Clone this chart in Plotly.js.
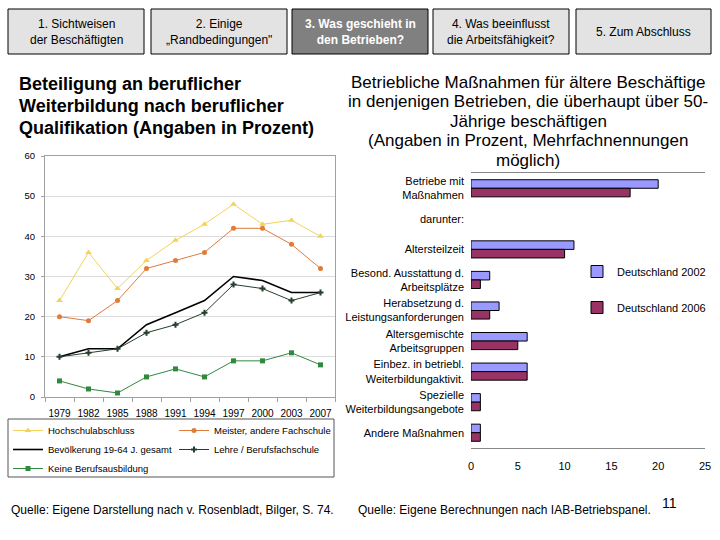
<!DOCTYPE html>
<html>
<head>
<meta charset="utf-8">
<script src="https://cdn.plot.ly/plotly-3.0.1.min.js"></script>
<style>html,body{margin:0;padding:0;background:#fff;}#chart{width:720px;height:540px;}</style>
</head>
<body>
<div id="chart"></div>
<script>
// ---- Data: left chart (line) ----
const years = ['1979','1982','1985','1988','1991','1994','1997','2000','2003','2007'];
const hochschul = [24, 36, 27, 34, 39, 43, 48, 43, 44, 40];
const meister = [20, 19, 24, 32, 34, 36, 42, 42, 38, 32];
const bevoelkerung = [10, 12, 12, 18, 21, 24, 30, 29, 26, 26];
const lehre = [10, 11, 12, 16, 18, 21, 28, 27, 24, 26];
const keine = [4, 2, 1, 5, 7, 5, 9, 9, 11, 8];
const lineNames = ['Hochschulabschluss', 'Meister, andere Fachschule', 'Bevölkerung 19-64 J. gesamt', 'Lehre / Berufsfachschule', 'Keine Berufsausbildung'];

// ---- Data: right chart (bars) ----
const measures = ['Betriebe mit<br>Maßnahmen', 'darunter:', 'Altersteilzeit', 'Besond. Ausstattung d.<br>Arbeitsplätze', 'Herabsetzung d.<br>Leistungsanforderungen', 'Altersgemischte<br>Arbeitsgruppen', 'Einbez. in betriebl.<br>Weiterbildungaktivit.', 'Spezielle<br>Weiterbildungsangebote', 'Andere Maßnahmen'];
const de2002 = [20, null, 11, 2, 3, 6, 6, 1, 1];
const de2006 = [17, null, 10, 1, 2, 5, 6, 1, 1];
const barNames = ['Deutschland 2002', 'Deutschland 2006'];
const xTicksBar = [0, 5, 10, 15, 20, 25];

// ---- Texts ----
const tabs = ['1. Sichtweisen<br>der Beschäftigten', '2. Einige<br>„Randbedingungen"', '<b>3. Was geschieht in<br>den Betrieben?</b>', '4. Was beeinflusst<br>die Arbeitsfähigkeit?', '5. Zum Abschluss'];
const titleLeftLines = ['Beteiligung an beruflicher', 'Weiterbildung nach beruflicher', 'Qualifikation (Angaben in Prozent)'];
const titleRightLines = ['Betriebliche Maßnahmen für ältere Beschäftige', 'in denjenigen Betrieben, die überhaupt über 50-', 'Jährige beschäftigen', '(Angaben in Prozent, Mehrfachnennungen', 'möglich)'];
const sourceLeft = 'Quelle: Eigene Darstellung nach v. Rosenbladt, Bilger, S. 74.';
const sourceRight = 'Quelle: Eigene Berechnungen nach IAB-Betriebspanel.';
const pageNo = '11';

const W = 720, H = 540;
const X = p => p / W;
const Y = p => 1 - p / H;
const FONT = 'Liberation Sans, Arial, sans-serif';

const traces = [
  {x: years, y: hochschul, name: lineNames[0], type: 'scatter', mode: 'lines+markers', xaxis: 'x', yaxis: 'y', legend: 'legend',
   line: {color: '#f3d35a', width: 1}, marker: {symbol: 'triangle-up', size: 6, color: '#f3d35a'}},
  {x: years, y: meister, name: lineNames[1], type: 'scatter', mode: 'lines+markers', xaxis: 'x', yaxis: 'y', legend: 'legend2',
   line: {color: '#e07b3a', width: 1}, marker: {symbol: 'circle', size: 5, color: '#e07b3a'}},
  {x: years, y: bevoelkerung, name: lineNames[2], type: 'scatter', mode: 'lines', xaxis: 'x', yaxis: 'y', legend: 'legend',
   line: {color: '#000000', width: 1.6}},
  {x: years, y: lehre, name: lineNames[3], type: 'scatter', mode: 'lines+markers', xaxis: 'x', yaxis: 'y', legend: 'legend2',
   line: {color: '#253f2d', width: 1}, marker: {symbol: 'cross', size: 5, color: '#253f2d'}},
  {x: years, y: keine, name: lineNames[4], type: 'scatter', mode: 'lines+markers', xaxis: 'x', yaxis: 'y', legend: 'legend',
   line: {color: '#2f8a3e', width: 1}, marker: {symbol: 'square', size: 5, color: '#2f8a3e'}},
  {y: measures, x: de2002, name: barNames[0], type: 'bar', orientation: 'h', xaxis: 'x2', yaxis: 'y2', legend: 'legend3', legendgroup: 'a',
   marker: {color: '#9999ff', line: {color: '#000', width: 1}}},
  {y: measures, x: de2006, name: barNames[1], type: 'bar', orientation: 'h', xaxis: 'x2', yaxis: 'y2', legend: 'legend3', legendgroup: 'b',
   marker: {color: '#993366', line: {color: '#000', width: 1}}}
];

const tabBoxes = [[8,144],[151,287],[292,428],[433,569],[576,711]];
const shapes = [];
const annotations = [];
tabBoxes.forEach((b, i) => {
  const dark = i === 2;
  shapes.push({type: 'rect', xref: 'paper', yref: 'paper', x0: X(b[0]), x1: X(b[1]), y0: Y(54), y1: Y(9),
    fillcolor: dark ? '#808080' : '#e3e3e3', line: {color: '#000', width: 1}, layer: 'below'});
  annotations.push({xref: 'paper', yref: 'paper', x: X((b[0] + b[1]) / 2), y: Y(31.5), xanchor: 'center', yanchor: 'middle',
    text: tabs[i], showarrow: false, align: 'center', font: {family: FONT, size: 12, color: dark ? '#fff' : '#000'}});
});
// legend box for line chart
shapes.push({type: 'rect', xref: 'paper', yref: 'paper', x0: X(8), x1: X(334), y0: Y(477), y1: Y(419),
  fillcolor: 'rgba(0,0,0,0)', line: {color: '#555', width: 1}, layer: 'below'});

const leftTitleY = [84, 106, 128];
titleLeftLines.forEach((t, i) => annotations.push({xref: 'paper', yref: 'paper', x: X(17), y: Y(leftTitleY[i]), xanchor: 'left', yanchor: 'middle',
  text: '<b>' + t + '</b>', showarrow: false, font: {family: FONT, size: 18, color: '#000'}}));
const rightTitleY = [82, 101.5, 121, 140.5, 160];
titleRightLines.forEach((t, i) => annotations.push({xref: 'paper', yref: 'paper', x: X(528), y: Y(rightTitleY[i]), xanchor: 'center', yanchor: 'middle',
  text: t, showarrow: false, font: {family: FONT, size: 17, color: '#000'}}));
annotations.push({xref: 'paper', yref: 'paper', x: X(9), y: Y(510), xanchor: 'left', yanchor: 'middle', align: 'left',
  text: sourceLeft, showarrow: false, font: {family: FONT, size: 12, color: '#000'}});
annotations.push({xref: 'paper', yref: 'paper', x: X(356), y: Y(510), xanchor: 'left', yanchor: 'middle', align: 'left',
  text: sourceRight, showarrow: false, font: {family: FONT, size: 12, color: '#000'}});
annotations.push({xref: 'paper', yref: 'paper', x: X(669), y: Y(503), xanchor: 'center', yanchor: 'middle',
  text: pageNo, showarrow: false, font: {family: FONT, size: 14, color: '#000'}});

const layout = {
  width: W, height: H,
  margin: {l: 0, r: 0, t: 0, b: 0, pad: 0},
  paper_bgcolor: '#fff', plot_bgcolor: '#fff',
  font: {family: FONT, color: '#000'},
  showlegend: true,
  barmode: 'group', bargap: 0.44, bargroupgap: 0,
  xaxis: {domain: [X(45), X(335)], anchor: 'y', type: 'category', range: [-0.5, 9.5],
    showline: true, mirror: true, linecolor: '#a0a0a0', linewidth: 1,
    ticks: 'outside', tickson: 'boundaries', ticklen: 4, tickcolor: '#a0a0a0', tickangle: 0,
    showgrid: false, zeroline: false, tickfont: {size: 10}, ticklabelstandoff: 7, fixedrange: true},
  yaxis: {domain: [Y(397), Y(156)], anchor: 'x', range: [0, 60], dtick: 10,
    showgrid: true, gridcolor: '#dcdcdc', zeroline: false,
    showline: true, mirror: true, linecolor: '#a0a0a0', linewidth: 1,
    ticks: 'outside', ticklen: 3, tickcolor: '#a0a0a0', tickfont: {size: 9.5}, ticklabelstandoff: 4, fixedrange: true},
  xaxis2: {domain: [X(471), X(705)], anchor: 'y2', range: [0, 25], tickvals: xTicksBar,
    showline: true, mirror: true, linecolor: '#888', linewidth: 1,
    ticks: '', showgrid: false, zeroline: false, tickfont: {size: 11}, ticklabelstandoff: 8, fixedrange: true},
  yaxis2: {domain: [Y(448), Y(173)], anchor: 'x2', type: 'category', categoryorder: 'array', categoryarray: measures,
    autorange: 'reversed', showgrid: false, zeroline: false, showline: false, ticks: '',
    tickfont: {size: 11}, ticklabelstandoff: 6, fixedrange: true},
  legend: {xref: 'paper', yref: 'paper', x: X(8), y: Y(416), xanchor: 'left', yanchor: 'top',
    bgcolor: 'rgba(0,0,0,0)', borderwidth: 0, font: {size: 9.5}, traceorder: 'normal', itemwidth: 30},
  legend2: {xref: 'paper', yref: 'paper', x: X(174), y: Y(416), xanchor: 'left', yanchor: 'top',
    bgcolor: 'rgba(0,0,0,0)', borderwidth: 0, font: {size: 9.5}, traceorder: 'normal', itemwidth: 30},
  legend3: {xref: 'paper', yref: 'paper', x: X(577), y: Y(257), xanchor: 'left', yanchor: 'top',
    bgcolor: 'rgba(0,0,0,0)', borderwidth: 0, font: {size: 11}, traceorder: 'grouped', tracegroupgap: 17, itemwidth: 30},
  shapes: shapes,
  annotations: annotations
};

Plotly.newPlot('chart', traces, layout, {displayModeBar: false, staticPlot: true});
</script>
</body>
</html>
